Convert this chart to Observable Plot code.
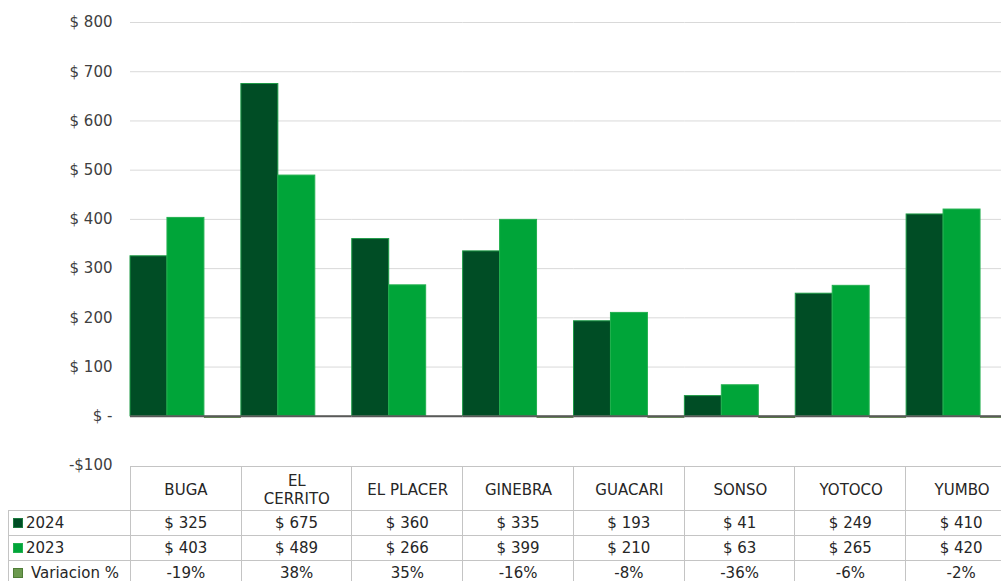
<!DOCTYPE html>
<html><head><meta charset="utf-8">
<script src="https://cdn.jsdelivr.net/npm/d3@7"></script>
<script src="https://cdn.jsdelivr.net/npm/@observablehq/plot@0.6"></script>
<style>
html,body{margin:0;padding:0;overflow:hidden;background:#fff;width:1001px;height:581px;}
#wrap{position:relative;width:1017px;height:581px;}
#wrap svg{position:absolute;left:0;top:0;}
table{position:absolute;border-collapse:collapse;font-family:"DejaVu Sans";font-size:15px;color:#262626;table-layout:fixed;}
td{border:1px solid #c4c4c4;text-align:center;padding:0;white-space:nowrap;overflow:hidden;}
td.lab{text-align:left;padding-left:4px;}
.sw{display:inline-block;width:8px;height:8px;margin-right:3px;vertical-align:0px;}
</style></head><body><div id="wrap"></div>
<script>
const categories = ["BUGA","EL CERRITO","EL PLACER","GINEBRA","GUACARI","SONSO","YOTOCO","YUMBO"];
const categoryLabels = ["BUGA","EL\nCERRITO","EL PLACER","GINEBRA","GUACARI","SONSO","YOTOCO","YUMBO"];
const series = ["2024","2023","Variacion %"];
const values2024 = [325,675,360,335,193,41,249,410];
const values2023 = [403,489,266,399,210,63,265,420];
const variacionPct = [-19,38,35,-16,-8,-36,-6,-2];
const yTicks = [-100,0,100,200,300,400,500,600,700,800];
const colors = ["#004d25","#00a539","#6c9a4f"];

const data = categories.flatMap((c,i)=>[
  {cat:c, serie:"2024", value:values2024[i]},
  {cat:c, serie:"2023", value:values2023[i]},
  {cat:c, serie:"Variacion %", value:variacionPct[i]/100}
]);
const fmtY = v => v < 0 ? "-$" + Math.abs(v) : v === 0 ? "$ -" : "$ " + v;

const chart = Plot.plot({
  width: 1017, height: 581,
  marginLeft: 130, marginRight: 0, marginTop: 22, marginBottom: 116,
  style: {fontFamily: "DejaVu Sans", fontSize: "15px", color: "#404040", background: "transparent"},
  fx: {domain: categories, padding: 0, round: false, axis: null},
  x: {domain: series, padding: 0, round: false, axis: null},
  y: {domain: [-100, 800], axis: null},
  color: {domain: series, range: colors},
  marks: [
    Plot.gridY({ticks: yTicks.filter(t => t > 0), stroke: "#d9d9d9", strokeOpacity: 1}),
    Plot.barY(data.filter(d => d.serie === "2024"), {fx: "cat", x: "serie", y: "value", fill: "serie", stroke: "#1c9a45", strokeWidth: 1}),
    Plot.barY(data.filter(d => d.serie === "2023"), {fx: "cat", x: "serie", y: "value", fill: "serie", stroke: "#22b04f", strokeWidth: 1}),
    Plot.barY(data.filter(d => d.serie === "Variacion %" && d.value < 0), {fx: "cat", x: "serie", y: "value", fill: "#4f7d36", insetBottom: -2}),
    Plot.barY(data.filter(d => d.serie === "Variacion %" && d.value >= 0), {fx: "cat", x: "serie", y: "value", fill: "serie"}),
    Plot.ruleY([0], {stroke: "#595959", strokeWidth: 2}),
    Plot.axisY({ticks: yTicks, tickSize: 0, tickPadding: 18, tickFormat: fmtY, label: null, fill: "#404040"}),
    Plot.text(categories, {fx: d => d, text: (d, i) => categoryLabels[i], frameAnchor: "bottom", dy: 24, lineAnchor: "middle", lineHeight: 1.2, fill: "#262626"})
  ]
});
const wrap = document.getElementById("wrap");
wrap.appendChild(chart);

// data table under the chart, columns from Plot's fx scale
const fx = chart.scale("fx");
const ys = chart.scale("y");
const bw = fx.bandwidth;
const firstCol = 122;
const table = document.createElement("table");
table.style.left = (fx.apply(categories[0]) - firstCol) + "px";
table.style.top = (ys.apply(-100) + 1) + "px";
const cg = document.createElement("colgroup");
[firstCol, ...categories.map(() => bw)].forEach(w => { const c = document.createElement("col"); c.style.width = w + "px"; cg.appendChild(c); });
table.appendChild(cg);
// header (labels drawn by Plot.text above)
const hr = document.createElement("tr"); hr.style.height = "44px";
const e = document.createElement("td"); e.style.border = "none"; hr.appendChild(e);
categories.forEach(() => { const td = document.createElement("td"); hr.appendChild(td); });
table.appendChild(hr);
const rows = [
  {name: "2024", color: colors[0], border: "#1c7a3f", vals: values2024.map(v => "$ " + v)},
  {name: "2023", color: colors[1], border: "#22b04f", vals: values2023.map(v => "$ " + v)},
  {name: "Variacion %", color: colors[2], border: "#4f7d36", vals: variacionPct.map(v => v + "%"), gap: true}
];
rows.forEach(r => {
  const tr = document.createElement("tr"); tr.style.height = "25px";
  const td0 = document.createElement("td"); td0.className = "lab";
  td0.innerHTML = `<span class="sw" style="background:${r.color};border:1px solid ${r.border};${r.gap ? 'margin-right:8px;' : ''}"></span>${r.name}`;
  tr.appendChild(td0);
  r.vals.forEach(v => { const td = document.createElement("td"); td.textContent = v; tr.appendChild(td); });
  table.appendChild(tr);
});
wrap.appendChild(table);
</script>
</body></html>
